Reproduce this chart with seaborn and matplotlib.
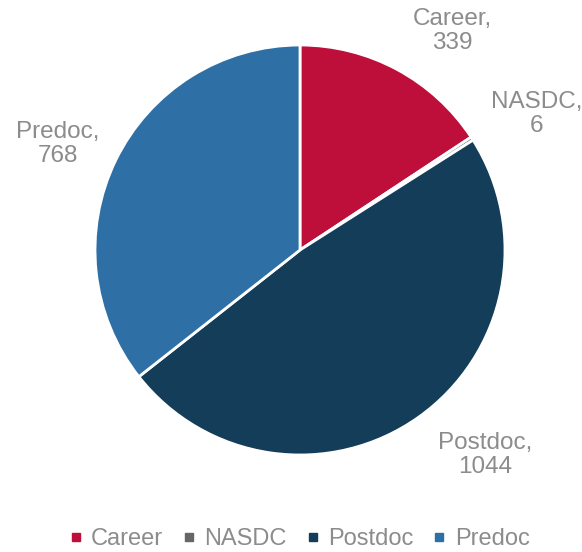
import matplotlib
matplotlib.use("Agg")
import numpy as np
import matplotlib.pyplot as plt
from matplotlib.lines import Line2D
import seaborn as sns

categories = ["Career", "NASDC", "Postdoc", "Predoc"]
values = [339, 6, 1044, 768]
colors = ["#BE0F3A", "#666666", "#143D59", "#2E70A6"]

# label placement (angle tweak in degrees, radial distance) per slice
label_layout = [(-6.6, 1.30), (-3.1, 1.33), (6.8, 1.35), (2.2, 1.29)]

sns.set_theme(style="white")
plt.rcParams['font.family'] = ['Liberation Sans', 'DejaVu Sans']
palette = sns.color_palette(colors)

fig = plt.figure(figsize=(5.82, 5.52), dpi=100)
ax = fig.add_axes([0, 0, 1, 1])
wedges, _ = ax.pie(values, colors=palette, startangle=90, counterclock=False,
                   wedgeprops=dict(edgecolor="white", linewidth=2.0))
for w, c, v, (dang, dist) in zip(wedges, categories, values, label_layout):
    mid = np.deg2rad((w.theta1 + w.theta2) / 2 + dang)
    ax.text(dist * np.cos(mid), dist * np.sin(mid), f"{c},\n{v}", color="#8C8C8C",
            fontsize=17.5, ha="center", va="center", linespacing=1.12)
ax.set_xlim(-300 / 205, 282 / 205)
ax.set_ylim(-302 / 205, 250 / 205)
ax.set_aspect("equal")
ax.axis("off")

handles = [Line2D([0], [0], marker="s", linestyle="", markersize=5.5,
                  markerfacecolor=c, markeredgecolor=c) for c in palette]
leg = fig.legend(handles, categories, loc="center", bbox_to_anchor=(0.515, 1 - 539 / 552),
                 ncol=4, frameon=False, fontsize=17, handlelength=0.5, handletextpad=0.4,
                 columnspacing=0.85, labelcolor="#8C8C8C", borderpad=0.1)

fig.savefig("out.png", dpi=100)
